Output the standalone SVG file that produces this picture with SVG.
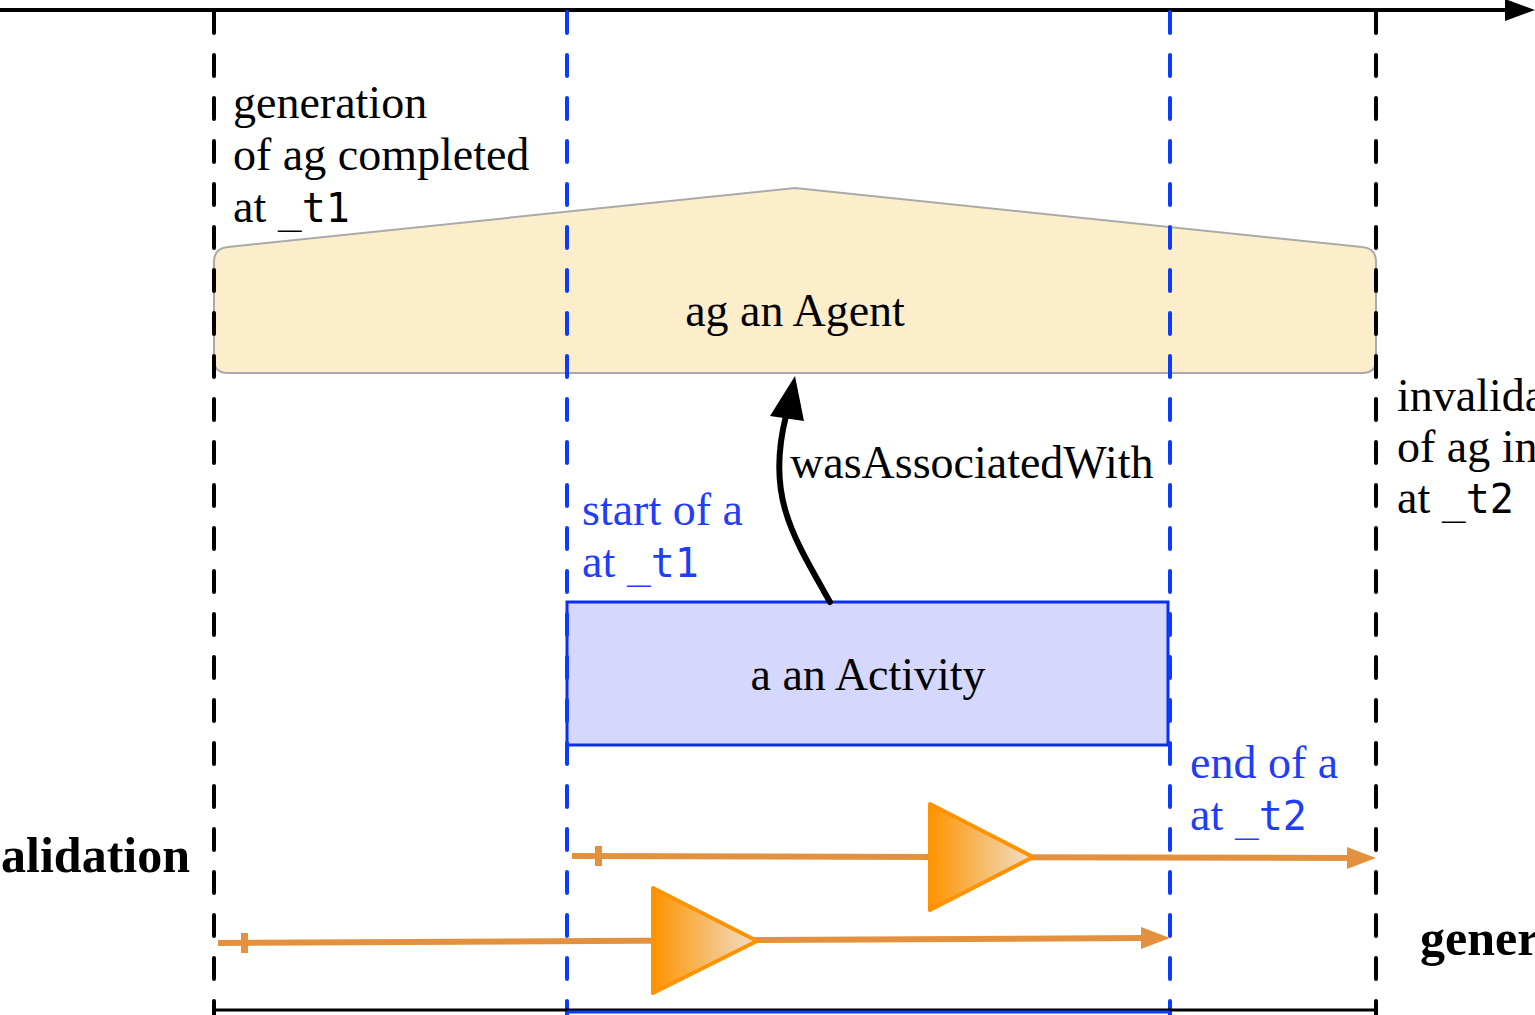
<svg xmlns="http://www.w3.org/2000/svg" width="1535" height="1015" viewBox="0 0 1535 1015">
<style>
.serif{font-family:"Liberation Serif","Times New Roman",serif;font-size:46px;fill:#000}
.mono{font-family:"DejaVu Sans Mono","Liberation Mono",monospace;font-size:40px}
.blue{fill:#1f3ef5}
.bold{font-family:"Liberation Serif","Times New Roman",serif;font-size:50px;font-weight:bold;fill:#000}
.vblack{stroke:#000;stroke-width:4;stroke-dasharray:21 22;stroke-linecap:round;fill:none}
.vblue{stroke:#0a3cff;stroke-width:4;stroke-dasharray:21 22;stroke-linecap:round;fill:none}
.orange{stroke:#e3913f;stroke-width:6;fill:none}
.tri{fill:url(#og);stroke:#ff9200;stroke-width:4;stroke-linejoin:round}
</style>
<defs>
<linearGradient id="og" x1="0" y1="0" x2="1" y2="0">
<stop offset="0" stop-color="#ff9400"/>
<stop offset="1" stop-color="#efe0cc"/>
</linearGradient>
</defs>
<rect width="1535" height="1015" fill="#fff"/>
<g id="axis">
<line x1="0" y1="10" x2="1508" y2="10" stroke="#000" stroke-width="4"/>
<polygon points="1535,10 1505,-1 1505,21" fill="#000"/>
</g>
<g id="agent">
<path d="M214,262 Q214,248 228,247 L795,188 L1362,247 Q1376,248 1376,262 L1376,360 Q1376,373 1362,373 L228,373 Q214,373 214,360 Z" fill="#fdeecb" stroke="#aaaaaa" stroke-width="2"/>
<text class="serif" x="795" y="326" text-anchor="middle">ag an Agent</text>
</g>
<g id="activity">
<rect x="567" y="602" width="601" height="143" fill="#d5d8fc" stroke="#0a2ff0" stroke-width="3"/>
<text class="serif" x="868" y="690" text-anchor="middle">a an Activity</text>
</g>
<g id="guides">
<line class="vblack" x1="214" y1="12" x2="214" y2="1015"/>
<line class="vblack" x1="1376" y1="12" x2="1376" y2="1015"/>
<line class="vblue" x1="567" y1="12" x2="567" y2="1015"/>
<line class="vblue" x1="1170" y1="12" x2="1170" y2="1015"/>
<line x1="214" y1="1010" x2="1376" y2="1010" stroke="#000" stroke-width="3"/>
<line x1="567" y1="1012" x2="1170" y2="1012" stroke="#0a3cff" stroke-width="3"/>
</g>
<g id="labels">
<text class="serif" x="233" y="118">generation</text>
<text class="serif" x="233" y="170">of ag completed</text>
<text class="serif" x="233" y="222">at <tspan class="mono">_t1</tspan></text>
<text class="serif" x="1397" y="411">invalida</text>
<text class="serif" x="1397" y="462">of ag in</text>
<text class="serif" x="1397" y="513">at <tspan class="mono">_t2</tspan></text>
<text class="serif blue" x="582" y="525">start of a</text>
<text class="serif blue" x="582" y="577">at <tspan class="mono">_t1</tspan></text>
<text class="serif blue" x="1190" y="778">end of a</text>
<text class="serif blue" x="1190" y="830">at <tspan class="mono">_t2</tspan></text>
<text class="bold" x="190" y="872" text-anchor="end">alidation</text>
<text class="bold" x="1420" y="955">gener</text>
</g>
<g id="connectors">
<g id="wasAssociatedWith">
<path d="M830,602 C792,535 766,495 786,416" fill="none" stroke="#000" stroke-width="6" stroke-linecap="round"/>
<polygon points="795,376 770,416 804,421" fill="#000"/>
<text class="serif" x="790" y="478">wasAssociatedWith</text>
</g>
<g id="invalidation-arrow">
<path class="orange" d="M572,856 L1350,858"/>
<rect x="595" y="846" width="7" height="20" fill="#e3913f"/>
<polygon points="1376,858 1347,847 1347,869" fill="#e3913f"/>
<polygon class="tri" points="930,804 1033,857 930,910"/>
</g>
<g id="generation-arrow">
<path class="orange" d="M218,943 L1145,938"/>
<rect x="241" y="933" width="7" height="20" fill="#e3913f"/>
<polygon points="1170,938 1141,927 1141,949" fill="#e3913f"/>
<polygon class="tri" points="653,888 757,941 653,993"/>
</g>
</g>
</svg>
